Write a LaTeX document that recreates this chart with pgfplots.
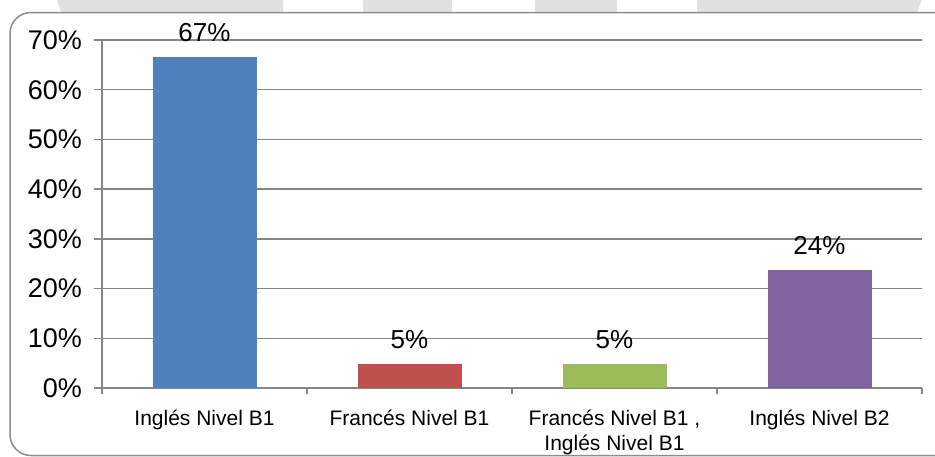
\documentclass[border=0pt]{standalone}
\usepackage{pgfplots}
\pgfplotsset{compat=1.18}
\usepackage{fontspec}
\setmainfont{Liberation Sans}
\definecolor{axisgray}{HTML}{868686}
\definecolor{framegray}{HTML}{8C8C8C}
\definecolor{bandgray}{HTML}{E1E1E1}
\definecolor{barblue}{HTML}{4F81BD}
\definecolor{barred}{HTML}{C0504D}
\definecolor{bargreen}{HTML}{9BBB59}
\definecolor{barpurple}{HTML}{8064A2}
\begin{document}
\begin{tikzpicture}
% light background bands at top
\fill[bandgray] (57bp,0bp) -- (283bp,0bp) -- (283bp,-12bp) -- (61bp,-12bp) -- cycle;
\fill[bandgray] (363bp,0bp) -- (452bp,0bp) -- (452bp,-12bp) -- (363bp,-12bp) -- cycle;
\fill[bandgray] (535bp,0bp) -- (617bp,0bp) -- (617bp,-12bp) -- (535bp,-12bp) -- cycle;
\fill[bandgray] (697bp,0bp) -- (922bp,0bp) -- (917bp,-12bp) -- (697bp,-12bp) -- cycle;
% frame, open on the right as in the cropped reference
\draw[framegray, line width=1.5bp, rounded corners=21bp] (935bp,-12.5bp) -- (10bp,-12.5bp) -- (10bp,-455.5bp) -- (935bp,-455.5bp);
\begin{axis}[
  at={(102bp,-388bp)}, anchor=south west,
  scale only axis, width=820bp, height=348bp,
  xmin=-0.5, xmax=3.5, ymin=0, ymax=70,
  ytick={0,10,...,70},
  yticklabel={\pgfmathprintnumber{\tick}\%},
  /pgf/number format/assume math mode=true,
  xtick={0,1,2,3},
  xticklabels={Inglés Nivel B1, Francés Nivel B1, {Francés Nivel B1 ,\\ Inglés Nivel B1}, Inglés Nivel B2},
  minor xtick={-0.5,0.5,1.5,2.5,3.5},
  major x tick style={draw=none},
  axis x line*=bottom, axis y line*=left,
  axis line style={draw=axisgray, line width=1.5bp},
  tick style={draw=axisgray, line width=1.5bp},
  ymajorgrids, grid style={draw=axisgray, line width=1.5bp},
  tick align=outside, major tick length=8bp, minor tick length=6bp,
  yticklabel style={font=\fontsize{27bp}{32bp}\selectfont, inner sep=0pt, xshift=-12bp},
  xticklabel style={font=\fontsize{21bp}{25bp}\selectfont, align=center, inner sep=0pt, yshift=-14bp, anchor=north},
  ybar, bar width=104bp,
  nodes near coords={\pgfmathprintnumber[fixed,precision=0]{\pgfplotspointmeta}\%},
  every node near coord/.append style={font=\fontsize{26bp}{30bp}\selectfont, inner sep=0pt, yshift=15bp, text=black},
  clip=false,
]
\addplot[ybar, bar shift=0pt, fill=barblue, draw=none] coordinates {(0,66.67)};
\addplot[ybar, bar shift=0pt, fill=barred, draw=none] coordinates {(1,4.76)};
\addplot[ybar, bar shift=0pt, fill=bargreen, draw=none] coordinates {(2,4.76)};
\addplot[ybar, bar shift=0pt, fill=barpurple, draw=none] coordinates {(3,23.81)};
\end{axis}
\pgfresetboundingbox
\useasboundingbox (0bp,0bp) rectangle (935bp,-457bp);
\end{tikzpicture}
\end{document}
